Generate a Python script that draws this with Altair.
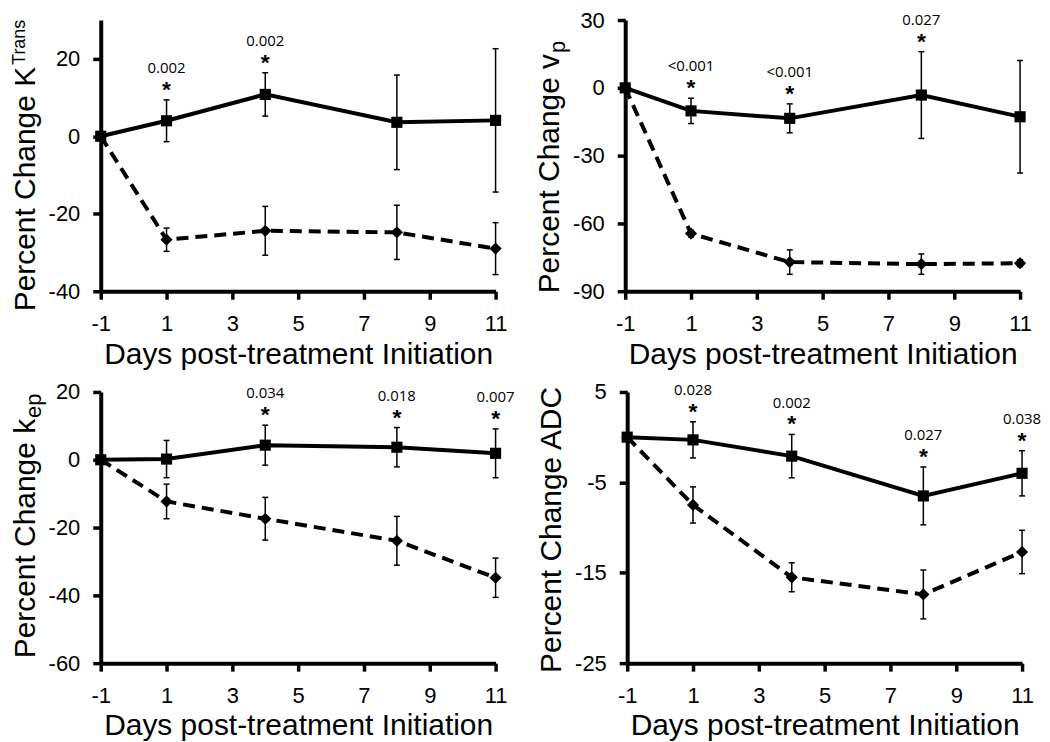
import altair as alt
import pandas as pd

days = [-1, 1, 4, 8, 11]

ktrans_solid = [0, 4.0, 10.8, 3.6, 4.1]
ktrans_solid_err = [0, 5.4, 5.6, 12.2, 18.5]
ktrans_dash = [0, -26.7, -24.4, -24.8, -29.0]
ktrans_dash_err = [0, 3.0, 6.3, 7.0, 6.7]
ktrans_p_days = [1, 4]
ktrans_p = ["0.002", "0.002"]

vp_solid = [0, -10.2, -13.5, -3.2, -12.8]
vp_solid_err = [0, 5.6, 6.4, 19.2, 24.9]
vp_dash = [0, -64.5, -77.1, -78.0, -77.6]
vp_dash_err = [0, 1.5, 5.4, 4.5, 1.5]
vp_p_days = [1, 4, 8]
vp_p = ["<0.001", "<0.001", "0.027"]

kep_solid = [0, 0.2, 4.3, 3.7, 1.9]
kep_solid_err = [0, 5.5, 5.9, 5.8, 7.2]
kep_dash = [0, -12.3, -17.4, -23.9, -34.8]
kep_dash_err = [0, 5.1, 6.3, 7.2, 5.8]
kep_p_days = [4, 8, 11]
kep_p = ["0.034", "0.018", "0.007"]

adc_solid = [0, -0.3, -2.1, -6.5, -4.0]
adc_solid_err = [0, 2.0, 2.4, 3.2, 2.5]
adc_dash = [0, -7.5, -15.5, -17.4, -12.7]
adc_dash_err = [0, 2.0, 1.6, 2.7, 2.4]
adc_p_days = [1, 4, 8, 11]
adc_p = ["0.028", "0.002", "0.027", "0.038"]

x_ticks = [-1, 1, 3, 5, 7, 9, 11]
x_title = "Days post-treatment Initiation"

W, H = 396, 272
FONT = "Liberation Sans"
LABEL_EXPR = "'' + datum.value"


def series_df(vals, errs):
    return pd.DataFrame({
        "day": days, "mean": vals, "err": errs,
        "lo": [v - e for v, e in zip(vals, errs)],
        "hi": [v + e for v, e in zip(vals, errs)],
    })


def panel(solid, solid_err, dash, dash_err, p_days, p_labels,
          ymin, ymax, yticks, main_title, extra, extra_kind, title_end):
    sdf = series_df(solid, solid_err)
    ddf = series_df(dash, dash_err)
    both = pd.concat([sdf, ddf])
    both = both[both["err"] > 0]
    ann = sdf[sdf["day"].isin(p_days)].copy()
    ann["label"] = [p_labels[p_days.index(d)] for d in ann["day"]]

    xenc = alt.X("day:Q", scale=alt.Scale(domain=[-1, 11], nice=False, zero=False),
                 axis=alt.Axis(values=x_ticks, title=x_title, labelPadding=14,
                               titlePadding=5, labelFlush=False, labelOverlap=False,
                               labelExpr=LABEL_EXPR))
    ysc = alt.Scale(domain=[ymin, ymax], nice=False, zero=False)
    yax = alt.Axis(values=yticks, title=None, labelPadding=13,
                   labelFlush=False, labelOverlap=False, labelExpr=LABEL_EXPR)

    def Y(field):
        return alt.Y(field, scale=ysc, axis=yax)

    rules = alt.Chart(both).mark_rule(color="black", strokeWidth=1.5).encode(
        x=xenc, y=Y("lo:Q"), y2="hi:Q")
    cap_hi = alt.Chart(both).mark_tick(orient="horizontal", color="black", size=6,
                                       thickness=1.5, opacity=1).encode(x=xenc, y=Y("hi:Q"))
    cap_lo = alt.Chart(both).mark_tick(orient="horizontal", color="black", size=6,
                                       thickness=1.5, opacity=1).encode(x=xenc, y=Y("lo:Q"))
    dline = alt.Chart(ddf).mark_line(color="black", strokeWidth=4,
                                     strokeDash=[12, 7]).encode(x=xenc, y=Y("mean:Q"))
    sline = alt.Chart(sdf).mark_line(color="black", strokeWidth=4).encode(
        x=xenc, y=Y("mean:Q"))
    dpts = alt.Chart(ddf).mark_point(shape="diamond", filled=True, color="black",
                                     size=150, opacity=1).encode(x=xenc, y=Y("mean:Q"))
    spts = alt.Chart(sdf).mark_point(shape="square", filled=True, color="black",
                                     size=125, opacity=1).encode(x=xenc, y=Y("mean:Q"))
    star = alt.Chart(ann).mark_text(text="*", font=FONT, fontSize=23, fontWeight="bold",
                                    baseline="alphabetic", color="black", dy=-3).encode(
        x=xenc, y=Y("hi:Q"))
    ptxt = alt.Chart(ann).mark_text(font="Open Sans", fontSize=15, baseline="alphabetic",
                                    color="black", dy=-27).encode(
        x=xenc, y=Y("hi:Q"), text="label:N")

    one = pd.DataFrame({"k": [0]})
    main_x = -66
    t_main = alt.Chart(one).mark_text(angle=270, align="right", baseline="alphabetic",
                                      font=FONT, fontSize=30, color="black").encode(
        x=alt.value(main_x), y=alt.value(title_end), text=alt.value(main_title))
    layers = [rules, cap_hi, cap_lo, dline, sline, dpts, spts, star, ptxt, t_main]
    if extra:
        if extra_kind == "sup":
            ex = alt.Chart(one).mark_text(angle=270, align="left", baseline="alphabetic",
                                          font=FONT, fontSize=18, color="black").encode(
                x=alt.value(main_x - 10), y=alt.value(title_end - 2), text=alt.value(extra))
        else:
            ex = alt.Chart(one).mark_text(angle=270, align="left", baseline="alphabetic",
                                          font=FONT, fontSize=22, color="black").encode(
                x=alt.value(main_x + 6), y=alt.value(title_end - 1), text=alt.value(extra))
        layers.append(ex)
    return alt.layer(*layers).properties(width=W, height=H)


p1 = panel(ktrans_solid, ktrans_solid_err, ktrans_dash, ktrans_dash_err,
           ktrans_p_days, ktrans_p, -40, 30, [-40, -20, 0, 20],
           "Percent Change K", "Trans", "sup", 47)
p2 = panel(vp_solid, vp_solid_err, vp_dash, vp_dash_err,
           vp_p_days, vp_p, -90, 30, [-90, -60, -30, 0, 30],
           "Percent Change v", "p", "sub", 34)
p3 = panel(kep_solid, kep_solid_err, kep_dash, kep_dash_err,
           kep_p_days, kep_p, -60, 20, [-60, -40, -20, 0, 20],
           "Percent Change k", "ep", "sub", 27)
p4 = panel(adc_solid, adc_solid_err, adc_dash, adc_dash_err,
           adc_p_days, adc_p, -25, 5, [-25, -15, -5, 5],
           "Percent Change ADC", None, None, -5)

chart = alt.vconcat(
    alt.hconcat(p1, p2, spacing=28),
    alt.hconcat(p3, p4, spacing=22),
    spacing=12,
).properties(
    padding={"left": 3, "top": 0, "right": 0, "bottom": 0}
).configure_view(stroke=None).configure_axis(
    domainColor="black", domainWidth=4, tickColor="black", tickWidth=3.5, tickSize=8,
    grid=False, labelFont=FONT, labelFontSize=22, labelColor="black",
    titleFont=FONT, titleFontSize=30, titleFontWeight="normal", titleColor="black",
)

chart.save("out.html", embed_options={"renderer": "svg", "actions": False})
